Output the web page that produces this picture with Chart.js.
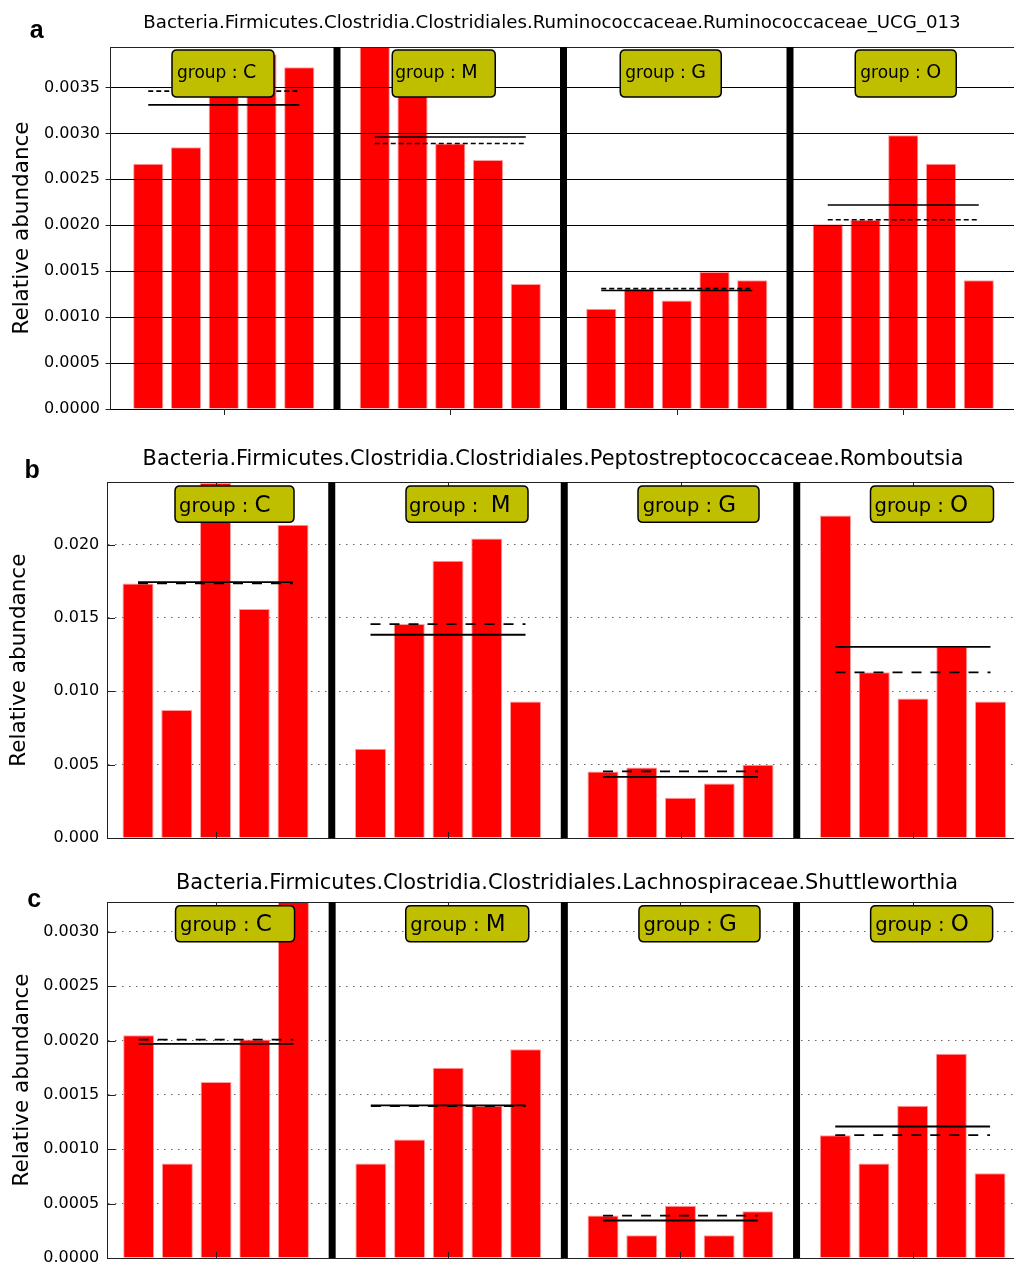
<!DOCTYPE html>
<html>
<head>
<meta charset="utf-8">
<script src="https://cdn.jsdelivr.net/npm/chart.js@4.4.1/dist/chart.umd.min.js"></script>
<style>
  html, body { margin: 0; padding: 0; background: #fff; overflow: hidden; width: 1014px; height: 1264px; }
  .panel { position: absolute; left: 0; }
  .letter { position: absolute; font-family: "Liberation Sans", Arial, sans-serif; font-weight: bold; font-size: 25px; line-height: 25px; color: #000; z-index: 5; }
</style>
</head>
<body>
<div class="panel" id="pa"><canvas id="ca"></canvas></div>
<div class="panel" id="pb"><canvas id="cb"></canvas></div>
<div class="panel" id="pc"><canvas id="cc"></canvas></div>
<div class="letter" style="left:29.7px;top:16.5px">a</div>
<div class="letter" style="left:24.5px;top:456.8px">b</div>
<div class="letter" style="left:27.3px;top:885.5px">c</div>
<script>
// ---------------- DATA ----------------
const groups = ['C', 'M', 'G', 'O'];
const yAxisLabel = 'Relative abundance';

// Panel a
const titleA = 'Bacteria.Firmicutes.Clostridia.Clostridiales.Ruminococcaceae.Ruminococcaceae_UCG_013';
const labelsA = ['group : C', 'group : M', 'group : G', 'group : O'];
const valuesA = [
  [0.00267, 0.00285, 0.00346, 0.00386, 0.00372],
  [0.00420, 0.00363, 0.00289, 0.00271, 0.00136],
  [0.00109, 0.00131, 0.00118, 0.00149, 0.00140],
  [0.00201, 0.00206, 0.00298, 0.00267, 0.00140]
];
const meansA = [0.00331, 0.00296, 0.00129, 0.00222];
const mediansA = [0.00346, 0.00289, 0.00131, 0.00206];
const yTicksA = [0, 0.0005, 0.0010, 0.0015, 0.0020, 0.0025, 0.0030, 0.0035];
const yMaxA = 0.00394;

// Panel b
const titleB = 'Bacteria.Firmicutes.Clostridia.Clostridiales.Peptostreptococcaceae.Romboutsia';
const labelsB = ['group : C', 'group :  M', 'group : G', 'group : O'];
const valuesB = [
  [0.01735, 0.00872, 0.02420, 0.01560, 0.02134],
  [0.00608, 0.01458, 0.01889, 0.02041, 0.00931],
  [0.00454, 0.00481, 0.00275, 0.00372, 0.00500],
  [0.02198, 0.01129, 0.00951, 0.01303, 0.00931]
];
const meansB = [0.01744, 0.01385, 0.00416, 0.01302];
const mediansB = [0.01735, 0.01458, 0.00454, 0.01129];
const yTicksB = [0, 0.005, 0.010, 0.015, 0.020];
const yMaxB = 0.02424;

// Panel c
const titleC = 'Bacteria.Firmicutes.Clostridia.Clostridiales.Lachnospiraceae.Shuttleworthia';
const labelsC = ['group : C', 'group : M', 'group : G', 'group : O'];
const valuesC = [
  [0.00205, 0.00087, 0.00162, 0.00201, 0.00329],
  [0.00087, 0.00109, 0.00175, 0.00140, 0.00192],
  [0.00039, 0.00021, 0.00048, 0.00021, 0.00043],
  [0.00113, 0.00087, 0.00140, 0.00188, 0.00078]
];
const meansC = [0.00197, 0.001404, 0.000345, 0.00121];
const mediansC = [0.00201, 0.001397, 0.00039, 0.00113];
const yTicksC = [0, 0.0005, 0.0010, 0.0015, 0.0020, 0.0025, 0.0030];
const yMaxC = 0.003276;

// ---------------- LAYOUT / STYLE ----------------
const SLOTS = 6; // slots per group on the x axis (5 bars + gap)
const FONT = '"DejaVu Sans", "Bitstream Vera Sans", sans-serif';

const panels = [
  { canvas: 'ca', holder: 'pa', top: 0, title: titleA, titleSize: 18.2, titleBaseline: 29.3, titleCenterX: 552,
    areaTop: 47, areaBottom: 409, left: 110.5, right: 1016.5, xMin: 0, xMax: 24,
    values: valuesA, means: meansA, medians: mediansA, yTicks: yTicksA, yMax: yMaxA, decimals: 4,
    tickPad: 10.5, tickDir: 'out', gridSolid: true, ylabelX: 22,
    labels: labelsA, boxDx: [-0.75, -6.5, -6, 2.5], boxW: [102, 103, 101, 101], boxTop: 3, boxH: 47,
    textDx: [5, 3, 5, 5], textBase: 4.8, labelSize: 17, letterSize: 19, lineW: 1.6, dash: [5, 3] },
  { canvas: 'cb', holder: 'pb', top: 430, title: titleB, titleSize: 20.9, titleBaseline: 467.3, titleCenterX: 553,
    areaTop: 482.3, areaBottom: 838.3, left: 107, right: 1021.5, xMin: 0.2, xMax: 23.8,
    values: valuesB, means: meansB, medians: mediansB, yTicks: yTicksB, yMax: yMaxB, decimals: 3,
    tickPad: 7.7, tickDir: 'in', gridSolid: false, ylabelX: 19,
    labels: labelsB, boxDx: [19, 19, 18, 19], boxW: [119, 122, 121, 123], boxTop: 3.7, boxH: 36.3,
    textDx: [4, 3, 4.7, 4], textBase: 7.8, labelSize: 19.5, letterSize: 23, lineW: 1.8, dash: [10, 9] },
  { canvas: 'cc', holder: 'pc', top: 852, title: titleC, titleSize: 20.85, titleBaseline: 890.7, titleCenterX: 567,
    areaTop: 902, areaBottom: 1257.7, left: 107.7, right: 1021, xMin: 0.2, xMax: 23.8,
    values: valuesC, means: meansC, medians: mediansC, yTicks: yTicksC, yMax: yMaxC, decimals: 4,
    tickPad: 8.4, tickDir: 'in', gridSolid: false, ylabelX: 22.5,
    labels: labelsC, boxDx: [19, 19, 19, 19], boxW: [119, 123, 121, 122], boxTop: 3.7, boxH: 36,
    textDx: [4.5, 4.5, 4.5, 4.5], textBase: 7, labelSize: 19.5, letterSize: 23, lineW: 1.8, dash: [10, 9] }
];

function barData(values) {
  const pts = [];
  values.forEach((grp, g) => grp.forEach((v, i) => pts.push({ x: g * SLOTS + i + 1, y: v })));
  return pts;
}
function lineData(stats, values) {
  const pts = [];
  stats.forEach((v, g) => {
    const n = values[g].length;
    pts.push({ x: g * SLOTS + 1, y: v }, { x: g * SLOTS + n, y: v }, { x: g * SLOTS + n + 0.5, y: null });
  });
  return pts;
}

function roundRectPath(ctx, x, y, w, h, r) {
  ctx.beginPath();
  ctx.moveTo(x + r, y);
  ctx.lineTo(x + w - r, y);
  ctx.quadraticCurveTo(x + w, y, x + w, y + r);
  ctx.lineTo(x + w, y + h - r);
  ctx.quadraticCurveTo(x + w, y + h, x + w - r, y + h);
  ctx.lineTo(x + r, y + h);
  ctx.quadraticCurveTo(x, y + h, x, y + h - r);
  ctx.lineTo(x, y + r);
  ctx.quadraticCurveTo(x, y, x + r, y);
  ctx.closePath();
}

function makeFrame(p) {
  return {
    id: 'frame',
    afterDraw(chart) {
      const ctx = chart.ctx, ca = chart.chartArea;
      const xs = chart.scales.x, ys = chart.scales.y;
      ctx.save();
      // top spine + tick marks
      ctx.strokeStyle = '#222';
      ctx.lineWidth = 1;
      ctx.beginPath();
      ctx.moveTo(ca.left, Math.round(ca.top) + 0.5);
      ctx.lineTo(ca.right, Math.round(ca.top) + 0.5);
      p.yTicks.forEach(v => {
        const py = Math.round(ys.getPixelForValue(v)) + 0.5;
        if (p.tickDir === 'out') { ctx.moveTo(ca.left - 5, py); ctx.lineTo(ca.left, py); }
        else { ctx.moveTo(ca.left, py); ctx.lineTo(ca.left + 8, py); }
      });
      groups.forEach((g, i) => {
        const px = Math.round(xs.getPixelForValue(i * SLOTS + 3)) + 0.5;
        if (p.tickDir === 'out') { ctx.moveTo(px, ca.bottom); ctx.lineTo(px, ca.bottom + 6); }
        else {
          ctx.moveTo(px, ca.bottom); ctx.lineTo(px, ca.bottom - 6);
          ctx.moveTo(px, ca.top); ctx.lineTo(px, ca.top + 5);
        }
      });
      ctx.stroke();
      // group separators
      ctx.fillStyle = '#000';
      for (let i = 1; i < groups.length; i++) {
        const px = xs.getPixelForValue(i * SLOTS);
        ctx.fillRect(px - 3.5, ca.top, 7, ca.bottom - ca.top);
      }
      // group label boxes
      p.labels.forEach((txt, i) => {
        const cx = xs.getPixelForValue(i * SLOTS + 3) + p.boxDx[i];
        const w = p.boxW[i], h = p.boxH;
        const x0 = cx - w / 2, y0 = ca.top + p.boxTop;
        roundRectPath(ctx, x0, y0, w, h, 5);
        ctx.fillStyle = '#bfbf00';
        ctx.fill();
        ctx.lineWidth = 1.5;
        ctx.strokeStyle = '#000';
        ctx.stroke();
        ctx.fillStyle = '#000';
        ctx.textAlign = 'left';
        ctx.textBaseline = 'alphabetic';
        const by = y0 + h / 2 + p.textBase;
        const tx = x0 + p.textDx[i];
        const pre = txt.slice(0, -1), last = txt.slice(-1);
        ctx.font = p.labelSize + 'px ' + FONT;
        ctx.fillText(pre, tx, by);
        const wp = ctx.measureText(pre).width;
        ctx.font = p.letterSize + 'px ' + FONT;
        ctx.fillText(last, tx + wp, by);
      });
      ctx.restore();
    }
  };
}

panels.forEach(p => {
  const W = 1140;
  const H = Math.round(p.areaBottom - p.top + 30);
  const holder = document.getElementById(p.holder);
  holder.style.top = p.top + 'px';
  const cv = document.getElementById(p.canvas);
  cv.width = W; cv.height = H;
  cv.style.width = W + 'px'; cv.style.height = H + 'px';

  // The title is centred over [0, W - padRight]; an empty right-hand box
  // fills the gap between the plot's right edge and that limit.
  const titleRight = 2 * p.titleCenterX;
  const padRight = W - titleRight;
  const rightBox = titleRight - p.right;
  const lh = p.titleSize * 1.2;
  const mid = p.titleBaseline - 0.346 * p.titleSize;
  const pt = mid - p.top - lh / 2;
  const pb = (p.areaTop - p.top) - (mid - p.top) - lh / 2;
  const ylh = 21.5 * 1.2;
  const yTitlePad = p.ylabelX - ylh / 2;

  new Chart(cv, {
    type: 'bar',
    data: {
      datasets: [
        { type: 'line', label: 'mean', data: lineData(p.means, p.values), borderColor: '#000', borderWidth: p.lineW,
          pointRadius: 0, spanGaps: false, order: 1 },
        { type: 'line', label: 'median', data: lineData(p.medians, p.values), borderColor: '#000', borderWidth: p.lineW,
          borderDash: p.dash, pointRadius: 0, spanGaps: false, order: 1 },
        { type: 'bar', label: 'Relative abundance', data: barData(p.values), backgroundColor: '#ff0000',
          borderColor: '#ff9c9c', borderWidth: 1, barPercentage: 0.8, categoryPercentage: 1, order: 2 }
      ]
    },
    options: {
      responsive: false, animation: false, devicePixelRatio: 1,
      layout: { padding: { left: 0, top: 0, right: padRight, bottom: 30 } },
      plugins: {
        legend: { display: false },
        tooltip: { enabled: false },
        title: { display: true, text: p.title, color: '#000',
          font: { family: FONT, size: p.titleSize, weight: 'normal', lineHeight: 1.2 },
          padding: { top: pt, bottom: pb } }
      },
      scales: {
        x: {
          type: 'linear', min: p.xMin, max: p.xMax, offset: false,
          grid: { display: false, offset: false },
          ticks: { display: false },
          border: { display: true, color: '#222', width: 1 },
          afterBuildTicks(s) { s.ticks = groups.map((g, i) => ({ value: i * SLOTS + 3 })); },
          afterFit(s) { s.height = 0; }
        },
        y: {
          type: 'linear', min: 0, max: p.yMax,
          ticks: { color: '#000', font: { family: FONT, size: 16 }, padding: p.tickPad,
            callback: v => Number(v).toFixed(p.decimals) },
          afterBuildTicks(s) { s.ticks = p.yTicks.map(v => ({ value: v })); },
          afterFit(s) { s.width = p.left; },
          grid: p.gridSolid
            ? { color: '#000', lineWidth: 1, drawTicks: false, z: 1 }
            : { color: 'rgba(0,0,0,0.6)', lineWidth: 1, drawTicks: false },
          border: { display: true, color: '#222', width: 1, dash: p.gridSolid ? [] : [1.5, 5.5], z: p.gridSolid ? 2 : 0 },
          title: { display: true, text: yAxisLabel, color: '#000',
            font: { family: FONT, size: 21.5, lineHeight: 1.2 }, padding: { top: yTitlePad, bottom: 0 } }
        },
        yRight: {
          type: 'linear', position: 'right', display: true,
          grid: { display: false, drawTicks: false },
          ticks: { display: false },
          border: { display: false },
          afterFit(s) { s.width = rightBox; }
        }
      }
    },
    plugins: [makeFrame(p)]
  });
});
</script>
</body>
</html>
